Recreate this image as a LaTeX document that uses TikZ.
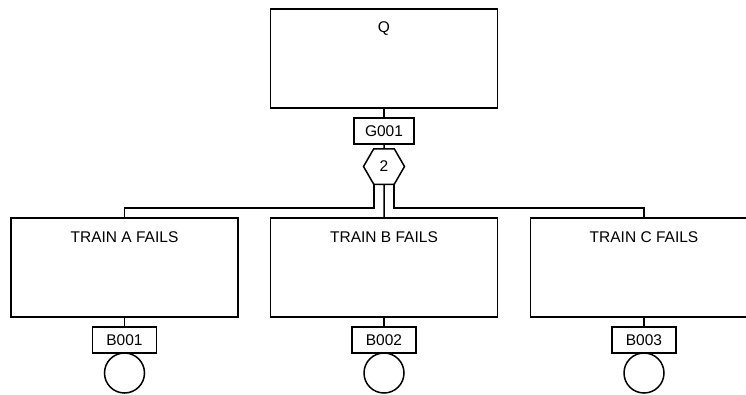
\documentclass[tikz,border=0pt]{standalone}
\usepackage{fontspec}
\setmainfont{Liberation Sans}
\usepackage{tikz}
\usetikzlibrary{shapes.geometric, positioning, calc}
\tikzset{
	event/.style  ={rectangle, draw=black, line width=1.5pt, minimum width=227pt, minimum height=99pt, inner sep=0pt},
	evtext/.style ={inner sep=0pt, align=center},
	tag/.style    ={rectangle, draw=black, line width=1.5pt, minimum width=60pt, minimum height=26pt, inner sep=0pt},
	gate/.style   ={regular polygon, regular polygon sides=6, draw=black, line width=1.5pt, minimum size=41pt, inner sep=0pt},
	basic/.style  ={circle, draw=black, line width=1.5pt, minimum size=40pt, inner sep=0pt},
	wire/.style   ={line width=1.5pt},
}

\begin{document}
\begin{tikzpicture}[x=1pt, y=-1pt, font=\fontsize{15.5}{18}\selectfont]
	\useasboundingbox (0,0) rectangle (746,394);
	\clip (0,0) rectangle (746,394);
	% top event and gate
	\node[event] (q) at (384,58.5) {};
	\node[evtext] (qtxt) at (384,28.5) {Q};
	\node[tag] (g001) at (384,131) {G001};
	\node[gate] (vote) at (384,166.5) {2};
	% trains
	\node[event] (ta) at (124.5,267.5) {};
	\node[event] (tb) at (384,267.5) {};
	\node[event] (tc) at (644,267.5) {};
	\node[evtext] (tatxt) at (124.5,236.7) {TRAIN A FAILS};
	\node[evtext] (tbtxt) at (384,236.7) {TRAIN B FAILS};
	\node[evtext] (tctxt) at (644,236.7) {TRAIN C FAILS};
	% basic events
	\node[tag, minimum width=64pt] (b001) at (124.5,340) {B001};
	\node[tag, minimum width=64pt] (b002) at (384,340) {B002};
	\node[tag, minimum width=64pt] (b003) at (644,340) {B003};
	\node[basic] (ca) at (124.5,373) {};
	\node[basic] (cb) at (384,373) {};
	\node[basic] (cc) at (644,373) {};
	% connectors
	\coordinate (bus) at (0,208);
	\draw[wire] (q) -- (g001);
	\draw[wire] (g001) -- (vote);
	\draw[wire] ([xshift=-10pt]vote.south) |- (ta.north |- bus) -- (ta.north);
	\draw[wire] (vote.south) -- (tb.north);
	\draw[wire] ([xshift=10pt]vote.south) |- (tc.north |- bus) -- (tc.north);
	\draw[wire] (ta) -- (b001);
	\draw[wire] (tb) -- (b002);
	\draw[wire] (tc) -- (b003);
\end{tikzpicture}
\end{document}
